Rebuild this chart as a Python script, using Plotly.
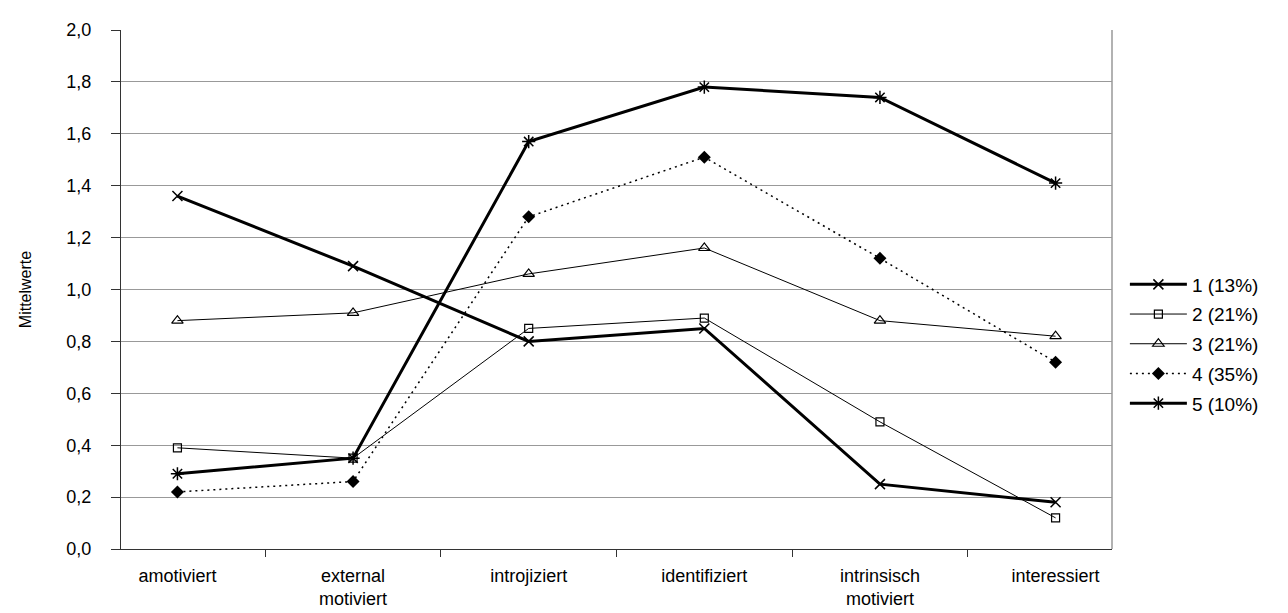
import plotly.graph_objects as go

categories = ["amotiviert", "external<br>motiviert", "introjiziert",
              "identifiziert", "intrinsisch<br>motiviert", "interessiert"]
series_names = ["1 (13%)", "2 (21%)", "3 (21%)", "4 (35%)", "5 (10%)"]
s1 = [1.36, 1.09, 0.80, 0.85, 0.25, 0.18]
s2 = [0.39, 0.35, 0.85, 0.89, 0.49, 0.12]
s3 = [0.88, 0.91, 1.06, 1.16, 0.88, 0.82]
s4 = [0.22, 0.26, 1.28, 1.51, 1.12, 0.72]
s5 = [0.29, 0.35, 1.57, 1.78, 1.74, 1.41]
y_ticks = [0.0, 0.2, 0.4, 0.6, 0.8, 1.0, 1.2, 1.4, 1.6, 1.8, 2.0]

FONT = "Liberation Sans, Arial, sans-serif"

styles = [
    dict(line=dict(color="black", width=3), marker=dict(symbol="x-thin-open", size=10, line=dict(color="black", width=1.5))),
    dict(line=dict(color="black", width=1), marker=dict(symbol="square-open", size=8, color="black", line=dict(color="black", width=1.2))),
    dict(line=dict(color="black", width=1), marker=dict(symbol="triangle-up-open", size=10, color="black", line=dict(color="black", width=1.2))),
    dict(line=dict(color="black", width=1.5, dash="2px,4px"), marker=dict(symbol="diamond", size=10, color="black")),
    dict(line=dict(color="black", width=3), marker=dict(symbol="asterisk-open", size=11, line=dict(color="black", width=1.5))),
]

fig = go.Figure()
for i, (name, vals) in enumerate(zip(series_names, [s1, s2, s3, s4, s5])):
    fig.add_trace(go.Scatter(
        x=categories, y=vals, name=name, mode="lines+markers",
        legendgroup=f"g{i}", **styles[i]))

fig.update_layout(
    width=1288, height=613,
    margin=dict(l=113, r=184, t=19, b=71),
    paper_bgcolor="white", plot_bgcolor="white",
    separators=",.",
    font=dict(family=FONT, size=18, color="black"),
    showlegend=True,
    legend=dict(x=1.013, xanchor="left", y=0.395, yanchor="middle",
                font=dict(family=FONT, size=19, color="black"),
                itemwidth=57, tracegroupgap=2, bgcolor="rgba(0,0,0,0)"),
)
fig.update_xaxes(
    type="category", tickson="boundaries", ticks="outside", ticklen=7,
    tickcolor="#333", showline=True, linecolor="#333", linewidth=1.2,
    showgrid=False, zeroline=False, ticklabelstandoff=10,
    tickfont=dict(family=FONT, size=18, color="black"),
)
fig.update_yaxes(
    range=[0, 2.0], tickvals=y_ticks, tickformat=".1f",
    ticks="outside", ticklen=9, tickcolor="#333",
    showline=True, linecolor="#333", linewidth=1.2, mirror=False,
    showgrid=True, gridcolor="#999999", gridwidth=1, zeroline=False,
    ticklabelstandoff=16,
    tickfont=dict(family=FONT, size=18, color="black"),
    title=dict(text="Mittelwerte", font=dict(family=FONT, size=16, color="black"), standoff=30),
)
# right border of plot area
fig.add_shape(type="line", xref="paper", yref="paper", x0=1, x1=1, y0=0, y1=1,
              line=dict(color="#999999", width=1.5))

fig.write_html("out.html")
